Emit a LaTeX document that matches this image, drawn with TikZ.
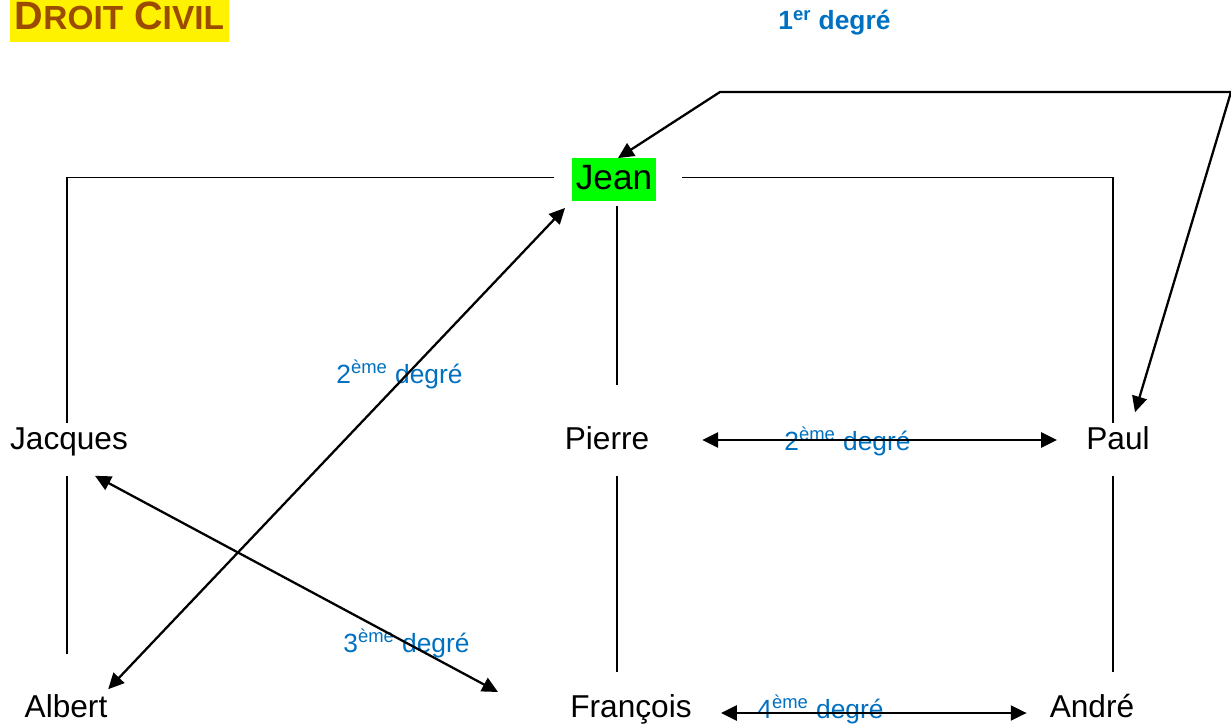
\documentclass[tikz,border=0pt]{standalone}
\usepackage{fontspec}
\setmainfont{Liberation Sans}
\usetikzlibrary{arrows.meta}
\definecolor{degblue}{RGB}{0,112,192}
\definecolor{titlebrown}{RGB}{156,76,0}
\definecolor{hlgreen}{RGB}{0,255,0}
\tikzset{
  person/.style={font=\fontsize{18}{20}\selectfont, text height=13pt, text depth=4pt, inner sep=2pt},
  degre/.style={font=\fontsize{15}{17}\selectfont, text=degblue, anchor=base west, inner sep=0pt},
  tree/.style={line width=0.8pt},
  degarrow/.style={line width=1.3pt, {Triangle[length=9pt,width=8.5pt]}-{Triangle[length=9pt,width=8.5pt]}}
}

\begin{document}
\begin{tikzpicture}[x=0.02cm,y=-0.02cm]
	%%%%% START %%%%%
	\useasboundingbox (0,0) rectangle (1231,726);
	
	\node[fill=yellow, anchor=north west, inner xsep=2.6pt, inner ysep=1pt, text height=15.5pt, text depth=6.4pt,
	      text=titlebrown, font=\fontsize{22.5}{25}\selectfont\bfseries] (titre) at (10,0)
	      {D{\fontsize{19}{21}\selectfont ROIT} C{\fontsize{19}{21}\selectfont IVIL}};
	
	% les personnes
	\node[person, fill=hlgreen, font=\fontsize{20}{22}\selectfont, text height=15pt, inner ysep=2.5pt, inner xsep=2pt] (jean) at (614,179.5) {Jean};
	\node[person] (jacques) at (69,442) {Jacques};
	\node[person] (pierre) at (607,442) {Pierre};
	\node[person] (paul) at (1118,442) {Paul};
	\node[person] (albert) at (66,710) {Albert};
	\node[person] (francois) at (631,710) {François};
	\node[person] (andre) at (1092,710) {André};
	
	% les degres
	\node[degre, font=\fontsize{15}{17}\selectfont\bfseries] (d1) at (778,30) {1\textsuperscript{er} degré};
	\node[degre] (d2a) at (336,383) {2\textsuperscript{ème} degré};
	\node[degre] (d2b) at (784,450) {2\textsuperscript{ème} degré};
	\node[degre] (d3) at (343,652) {3\textsuperscript{ème} degré};
	\node[degre] (d4) at (757,718) {4\textsuperscript{ème} degré};
	
	% l'arbre
	\draw[tree, shorten <=10pt] ([shift={(0,-2)}]jean.west) -| ([shift={(-2,0)}]jacques.north);
	\draw[tree, shorten <=15pt] ([shift={(0,-2)}]jean.east) -| ([shift={(-5,0)}]paul.north);
	\draw[tree, shorten <=3pt, shorten >=21.5pt] ([shift={(3,0)}]jean.south) -- ([shift={(3,0)}]jean.south |- pierre.north);
	\draw[tree, shorten <=8.5pt, shorten >=21pt] ([shift={(-2,0)}]jacques.south) -- ([shift={(-2,0)}]jacques.south |- albert.north);
	\draw[tree, shorten <=8.5pt, shorten >=11pt] ([shift={(10,0)}]pierre.south) -- ([shift={(10,0)}]pierre.south |- francois.north);
	\draw[tree, shorten <=8.5pt, shorten >=11pt] ([shift={(-5,0)}]paul.south) -- ([shift={(-5,0)}]paul.south |- andre.north);
	
	% les fleches
	\coordinate (k1) at (720,92);
	\coordinate (k2) at (1231,92);
	\coordinate (x3) at (498,692);
	\draw[degarrow] ([shift={(4,0)}]jean.north) -- (k1) -- (k2) -- ([shift={(17,-11)}]paul.north);
	\draw[degarrow, shorten <=28pt, shorten >=14.5pt] ([shift={(0,-2)}]pierre.east) -- ([shift={(0,-2)}]paul.west);
	\draw[degarrow, shorten <=14.5pt, shorten >=11pt] ([shift={(0,3)}]francois.east) -- ([shift={(0,3)}]andre.west);
	\draw[degarrow] ([shift={(-3,-2)}]albert.north east) -- ([shift={(-7,7)}]jean.south west);
	\draw[degarrow] ([shift={(26,15)}]jacques.south) -- (x3);
	%%%%% END %%%%%
\end{tikzpicture}
\end{document}
